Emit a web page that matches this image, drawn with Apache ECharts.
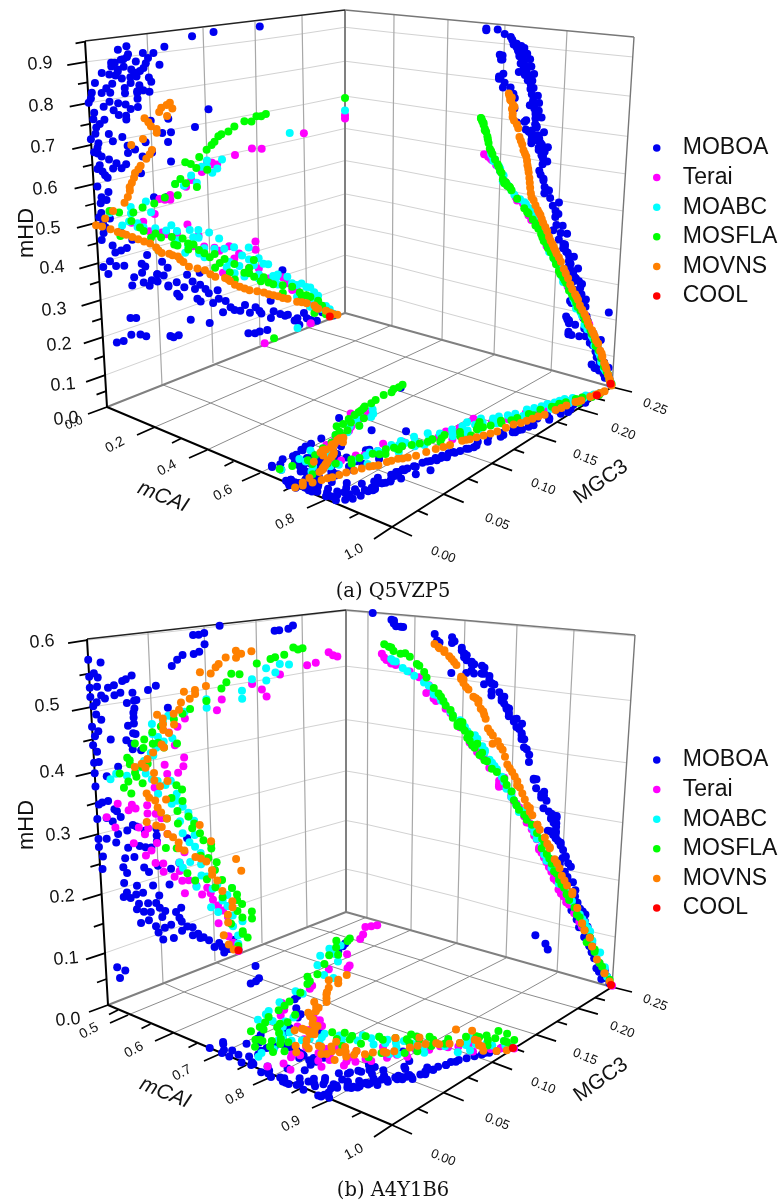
<!DOCTYPE html>
<html><head><meta charset="utf-8">
<script src="https://cdn.jsdelivr.net/npm/echarts@6/dist/echarts.min.js"></script>
<style>html,body{margin:0;padding:0;background:#fff}#c{width:783px;height:1204px}</style>
</head><body><div id="c"></div>
<script>
// Every record is [mCAI, MGC3, mHD]
const names = ['MOBOA','Terai','MOABC','MOSFLA','MOVNS','COOL'];
const colors = ['#0000f0','#ff00ff','#00ffff','#00ff00','#ff8000','#ff0000'];

const A_MOBOA = [
[.625,.065,.91],[.63,.055,.897],[.575,.11,.935],[.535,.155,.935],[.6,.033,.924],[.62,.026,.917],[.63,.034,.902],[.64,.046,.90],
[.65,.048,.872],[.645,.023,.884],[.655,.03,.87],[.66,.036,.86],[.665,.043,.853],[.67,.05,.832],[.59,.023,.85],[.595,.012,.862],
[.675,.006,.838],[.68,.03,.814],[.585,.05,.794],[.59,.04,.796],[.685,.018,.807],[.67,.003,.814],[.68,.002,.80],[.6,.011,.81],
[.605,.017,.784],[.69,.024,.776],[.635,.034,.756],[.625,.012,.773],[.695,.004,.762],[.64,.024,.745],[.70,.012,.739],[.705,.005,.723],
[.71,.004,.707],[.72,.103,.718],[.71,.066,.712],[.65,.09,.675],[.715,.068,.674],[.68,.026,.686],[.71,.018,.679],[.675,.006,.681],
[.72,.065,.649],[.70,.036,.646],[.725,.03,.641],[.73,.05,.629],[.69,.005,.655],[.735,.042,.624],[.72,.014,.634],[.74,.067,.594],
[.70,.006,.624],[.74,.028,.612],[.735,.024,.604],[.725,.017,.608],[.745,.008,.606],[.74,.012,.587],[.75,.05,.508],[.73,.012,.55],
[.765,.062,.50],[.745,.005,.525],[.76,.005,.50],[.80,.006,.472],[.79,.006,.447],[.795,.013,.409],[.785,.025,.392],[.81,.015,.389],
[.825,.015,.353],[.82,.022,.348],[.835,.008,.338],[.825,.042,.359],[.83,.037,.34],[.84,.037,.316],[.845,.03,.31],[.855,.028,.29],
[.85,.038,.289],[.86,.043,.275],[.855,.045,.288],[.84,.055,.329],[.845,.06,.308],[.845,.056,.291],[.865,.078,.272],[.875,.09,.266],
[.88,.083,.248],[.885,.09,.232],[.855,.068,.261],[.845,.06,.257],[.86,.068,.229],[.88,.087,.196],[.89,.098,.20],[.895,.102,.168],
[.90,.107,.20],[.91,.115,.162],[.91,.112,.133],[.92,.124,.128],[.93,.135,.132],[.945,.146,.115],[.95,.152,.091],[.955,.162,.119],
[.975,.175,.198],[.96,.162,.068],[.97,.177,.06],[.98,.187,.036],[.985,.197,.049],[.99,.192,.018],[.995,.213,.01],[.955,.158,.036],
[.93,.138,.047],[.94,.145,.04],[.87,.08,.145],[.885,.098,.116],[.85,.025,.207],[.855,.03,.202],[.845,.012,.155],[.85,.018,.153],
[.84,.025,.162],[.845,.033,.155],[.85,.038,.145],[.85,.06,.122],[.86,.068,.115],[.85,.063,.115],
[.945,.15,.04],[.585,.06,.863],[.595,.04,.85],[.585,.045,.80],[.60,.03,.77],[.625,.04,.758],[.64,.05,.715],[.65,.06,.676],[.68,.045,.66],
[.70,.05,.633],[.535,.09,.93],[.66,.02,.885],[.665,.04,.84],[.69,.03,.73],
[.64,.028,.89],[.645,.04,.88],[.65,.025,.865],[.655,.038,.845],[.66,.046,.86],[.67,.028,.84],[.675,.035,.825],[.68,.042,.815],[.665,.02,.83],[.65,.052,.82],[.655,.033,.895],[.66,.05,.885],[.665,.018,.855],[.685,.04,.80],
[.69,.0,.79],[.70,.003,.745],[.705,.008,.73],[.71,.0,.695],[.715,.005,.67],[.70,.002,.66],[.72,.008,.645],[.725,.004,.615],[.735,.01,.595],[.74,.003,.57],[.735,.006,.54],[.75,.003,.49],[.78,.008,.46],[.79,.004,.43],[.805,.01,.37],[.82,.004,.36],
[.90,.12,.14],[.905,.13,.12],[.92,.14,.105],[.93,.15,.10],[.94,.165,.085],[.945,.172,.07],[.955,.18,.06],[.96,.19,.04],[.97,.2,.03],[.975,.205,.02],[.905,.108,.175],[.89,.09,.185],[.88,.095,.215],[.87,.085,.225],[.86,.075,.24],[.85,.05,.28],[.84,.05,.30],
[.665,.03,.89],[.675,.02,.875],[.685,.025,.86],[.69,.035,.84],[.70,.015,.82],[.695,.03,.80],[.70,.04,.78],[.715,.02,.76],[.72,.03,.74],[.73,.015,.70],[.74,.03,.66],[.755,.02,.62],[.755,.04,.58],[.745,.01,.53],[.77,.012,.48],[.80,.02,.44],[.815,.03,.41],[.83,.02,.39],[.855,.04,.33],[.87,.05,.30],[.885,.06,.26],[.90,.07,.22],
[.97,.21,.06],[.985,.22,.03],[.995,.235,.006]];

const A_Terai = [
[.57,.11,.557],[.565,.105,.56],[.54,.1,.57],[.62,.055,.50],[.625,.06,.494],[.615,.065,.503],[.63,.065,.49],[.655,.05,.463],[.68,.04,.45],
[.71,.056,.408],[.81,.147,.307],[.83,.147,.283],[.795,.105,.323],[.805,.11,.31],[.825,.125,.276],[.815,.13,.286],[.84,.113,.245],[.885,.16,.187],
[.90,.175,.177],[.945,.197,.10],[.955,.21,.086],[.98,.225,.04],[.75,.09,.37],[.735,.07,.395],[.775,.095,.335],[.85,.14,.235],[.87,.15,.205],[.915,.18,.155],
[.93,.19,.125],[.97,.22,.05],[.99,.23,.02],[.60,.085,.53],[.585,.095,.545],[.66,.03,.455],[.70,.045,.42],[.725,.06,.40],
[.555,.105,.565],[.61,.08,.515],[.72,.08,.41],[.765,.085,.345],[.80,.12,.315],[.86,.15,.225],[.895,.165,.17],[.925,.185,.13],[.96,.205,.075]];

const A_MOABC = [
[.625,.012,.495],[.62,.03,.497],[.61,.043,.502],[.65,.047,.47],[.685,.022,.454],[.69,.035,.45],[.72,.05,.424],[.725,.065,.42],[.74,.082,.393],
[.745,.09,.386],[.76,.09,.364],[.76,.052,.362],[.78,.077,.334],[.805,.095,.305],[.805,.125,.308],[.83,.117,.258],[.815,.133,.278],[.845,.145,.239],
[.855,.16,.229],[.85,.125,.233],[.865,.15,.207],[.89,.18,.174],[.885,.168,.182],[.93,.205,.119],[.955,.21,.077],[.61,.09,.519],[.595,.085,.543],
[.565,.10,.574],[.59,.11,.545],[.60,.105,.536],[.612,.078,.519],[.985,.23,.03],[.97,.225,.045],[.94,.19,.105],[.915,.195,.14],[.875,.15,.195],
[.835,.14,.26],[.79,.105,.32],[.77,.11,.345],[.75,.07,.375],[.71,.04,.435],[.67,.028,.46],[.58,.095,.56],[.57,.115,.568],[.905,.17,.16],[.995,.235,.012],
[.73,.06,.41],[.755,.10,.37],[.765,.08,.35],[.82,.12,.27],[.825,.15,.255],[.86,.135,.215],[.87,.165,.19],[.90,.185,.15],[.925,.2,.125],[.95,.215,.085],[.96,.205,.06],[.64,.03,.48],[.60,.07,.53],[.575,.10,.555],[.70,.035,.44],
[.775,.095,.33],[.795,.115,.312],[.81,.14,.295],[.84,.13,.25],[.85,.155,.235],[.88,.17,.19],[.91,.19,.14],[.935,.21,.10],[.975,.22,.04],[.735,.07,.40],[.755,.085,.37],[.79,.09,.32]];

const A_MOSFLA = [
[.525,.16,.674],[.525,.15,.673],[.53,.138,.665],[.535,.128,.655],[.54,.122,.644],[.545,.112,.636],[.55,.108,.623],[.555,.10,.605],[.56,.093,.589],
[.565,.08,.583],[.59,.10,.548],[.61,.09,.507],[.605,.08,.525],[.615,.072,.497],[.625,.05,.491],[.635,.04,.488],[.64,.032,.481],[.685,.037,.437],
[.73,.046,.402],[.695,.02,.428],[.735,.065,.388],[.75,.067,.366],[.755,.08,.357],[.79,.095,.316],[.81,.115,.283],[.825,.105,.266],[.855,.135,.226],
[.885,.152,.186],[.91,.175,.153],[.935,.193,.115],[.98,.21,.037],[.99,.225,.019],[.835,.145,.254],[.96,.215,.07],[.95,.205,.09],[.925,.175,.13],
[.90,.165,.165],[.87,.145,.205],[.845,.12,.24],[.80,.10,.30],[.77,.08,.34],[.715,.05,.41],[.66,.03,.46],[.62,.012,.50],[.632,.02,.49],[.998,.232,.008],
[.535,.145,.66],[.57,.085,.575],[.60,.07,.53],[.97,.22,.05],[.865,.125,.215],[.78,.09,.33],
[.528,.155,.67],[.54,.115,.64],[.552,.105,.615],[.58,.09,.56],[.595,.075,.54],[.62,.06,.50],[.70,.04,.425],[.745,.075,.375],[.815,.11,.275],[.845,.14,.235],[.875,.155,.195],[.92,.185,.14],[.94,.2,.10],[.985,.225,.03],[.765,.085,.35],
[.725,.055,.395],[.76,.07,.36],[.80,.105,.305],[.83,.125,.26],[.86,.14,.22],[.895,.16,.175],[.945,.195,.10]];

const A_MOVNS = [
[.998,.24,.004],[.995,.235,.01],[.99,.23,.02],[.985,.225,.03],[.978,.215,.045],[.97,.21,.06],[.963,.2,.075],[.955,.19,.09],[.947,.18,.108],[.935,.17,.125],
[.925,.16,.14],[.915,.155,.15],[.905,.14,.17],[.89,.13,.19],[.875,.12,.215],[.865,.115,.228],[.855,.105,.24],[.84,.095,.268],[.825,.08,.292],[.815,.075,.31],
[.80,.07,.33],[.79,.062,.345],[.785,.055,.353],[.772,.05,.372],[.765,.045,.387],[.75,.035,.407],[.74,.025,.427],[.73,.018,.44],[.722,.012,.452],[.715,.005,.465],
[.708,.0,.472],[.705,.008,.483],[.70,.025,.512],[.695,.03,.54],[.69,.032,.56],[.685,.035,.584],[.675,.04,.60],[.67,.045,.616],[.66,.05,.636],[.655,.033,.66],
[.65,.043,.67],[.64,.055,.68],[.635,.05,.70],[.635,.045,.725],[.63,.06,.745],[.64,.065,.72],[.625,.07,.738],[.62,.068,.755],[.628,.058,.735],
[.992,.232,.015],[.975,.212,.052],[.96,.195,.083],[.94,.175,.115],[.93,.165,.133],[.91,.148,.16],[.898,.135,.18],[.882,.125,.2],[.87,.118,.222],[.848,.1,.252],[.832,.088,.28],[.808,.072,.32],[.795,.065,.338],[.778,.052,.362],[.758,.04,.397],[.745,.03,.417],[.735,.022,.433],[.702,.015,.498],[.698,.028,.525],[.693,.03,.55],[.688,.034,.572],[.68,.038,.592],[.665,.048,.626],[.632,.048,.712],[.635,.055,.69],[.622,.065,.75]];

const A_COOL = [[.995,.23,.008]];

// points seen only on one wall (MGC3 at the wall, mHD)
const A_leftOnly = {
 Terai:[[.25,.62],[.25,.61],[.128,.573],[.145,.581],[.155,.574],[.2,.593],[.155,.0],[.205,.01]],
 MOABC:[[.25,.635],[.185,.603],[.19,.01]],
 MOSFLA:[[.25,.674],[.165,.005]]
};

const B_MOBOA = [
[.555,.19,.582],[.56,.185,.577],[.57,.175,.577],[.575,.17,.577],[.51,.115,.599],[.55,.10,.589],[.555,.095,.587],[.555,.09,.588],
[.64,.10,.569],[.645,.095,.557],[.65,.09,.554],[.675,.08,.555],[.695,.075,.548],[.70,.07,.538],[.715,.055,.508],[.72,.048,.503],
[.70,.035,.531],[.705,.03,.526],[.715,.027,.524],[.735,.02,.519],[.74,.015,.516],[.75,.035,.502],[.76,.036,.488],[.77,.036,.475],
[.775,.035,.46],[.785,.035,.45],[.79,.034,.434],[.805,.032,.417],[.815,.033,.407],[.80,.015,.43],[.755,.065,.467],[.675,.0,.566],
[.68,.01,.559],[.695,.004,.543],[.70,.0,.538],[.705,.007,.535],[.715,.0,.52],[.72,.006,.52],[.735,.009,.505],[.74,.0,.505],
[.75,.005,.495],[.755,.002,.489],[.755,.004,.475],[.775,.008,.465],[.78,.0,.456],[.785,.005,.447],[.79,.002,.44],[.80,.0,.426],
[.81,.003,.414],[.82,.0,.397],[.815,.004,.397],[.825,.0,.38],[.83,.0,.358],[.84,.002,.328],[.845,.01,.33],[.86,.017,.31],[.855,.0,.305],
[.86,.008,.303],[.865,.013,.295],[.875,.025,.274],[.88,.017,.272],[.885,.0,.272],[.885,.007,.269],[.885,.015,.259],[.88,.0,.259],
[.885,.025,.245],[.87,.033,.277],[.87,.035,.243],[.875,.05,.265],[.875,.05,.243],[.89,.022,.229],[.885,.003,.242],[.895,.002,.222],
[.90,.02,.215],[.905,.023,.204],[.895,.02,.189],[.905,.031,.178],[.90,.022,.172],[.895,.019,.166],[.905,.03,.164],[.91,.036,.163],
[.905,.025,.161],[.91,.032,.147],[.915,.04,.143],[.925,.047,.139],[.91,.03,.139],[.915,.036,.131],[.92,.042,.127],[.92,.033,.114],
[.925,.04,.114],[.93,.05,.129],[.935,.052,.112],[.945,.065,.112],[.93,.046,.10],[.935,.048,.088],[.94,.054,.092],[.945,.06,.093],
[.95,.07,.092],[.955,.08,.075],[.945,.052,.073],[.95,.062,.069],[.95,.07,.076],[.955,.08,.061],[.96,.087,.051],[.965,.095,.041],
[.97,.10,.025],[.975,.105,.029],[.98,.11,.009],[.975,.108,.02],[.905,.038,.205],[.915,.062,.189],[.91,.07,.194],[.885,.078,.233],
[.885,.045,.235],[.88,.04,.238],[.855,.01,.055],[.875,.017,.045],[.88,.012,.036],
[.735,.025,.505],[.675,.012,.499],[.705,.02,.502],[.755,.038,.489],[.74,.03,.486],[.78,.035,.468],[.79,.03,.448],[.805,.036,.432],
[.815,.028,.424],[.815,.04,.403],[.82,.02,.383],[.83,.01,.371],[.84,.005,.33],[.845,.015,.314],[.855,.02,.299],[.86,.03,.281],
[.875,.04,.266],[.885,.05,.253],[.895,.03,.227],[.90,.05,.201],[.92,.06,.163],[.94,.07,.116],
[.955,.085,.06],[.95,.075,.08],[.945,.068,.10],[.935,.055,.12],[.925,.05,.15],[.91,.045,.17],[.895,.042,.195],[.96,.09,.05],[.985,.115,.012],
[.995,.125,.005],[.99,.122,.015],[.985,.12,.025]];

const B_Terai = [
[.54,.24,.51],[.535,.235,.514],[.53,.23,.521],[.55,.215,.504],[.56,.205,.502],[.59,.175,.493],[.63,.155,.471],[.625,.16,.456],[.61,.145,.484],
[.635,.115,.465],[.64,.11,.447],[.645,.08,.443],[.665,.073,.431],[.715,.078,.375],[.73,.077,.36],[.745,.072,.351],[.675,.065,.424],[.74,.062,.353],
[.785,.018,.322],[.78,.027,.307],[.785,.033,.307],[.775,.043,.308],[.80,.043,.294],[.775,.008,.304],[.805,.015,.284],[.815,.035,.274],[.82,.043,.269],
[.825,.04,.26],[.83,.03,.25],[.85,.04,.224],[.845,.045,.23],[.855,.048,.207],[.86,.055,.202],[.87,.055,.188],[.88,.065,.173],[.885,.072,.162],
[.89,.078,.159],[.90,.074,.139],[.91,.09,.126],[.915,.098,.123],[.935,.105,.097],[.96,.105,.065],[1,.125,.002],
[.695,.07,.40],[.72,.06,.37],[.755,.05,.335],[.775,.03,.315],[.80,.05,.29],[.84,.05,.24],[.875,.07,.18],[.895,.085,.145],[.925,.10,.11],[.945,.11,.085],[.975,.115,.035],[.985,.12,.02],
[.81,.055,.28],[.835,.06,.25],[.855,.075,.21],[.865,.07,.195],[.905,.095,.135],[.94,.115,.09],[.955,.115,.07]];

const B_MOABC = [
[.555,.185,.509],[.55,.175,.513],[.575,.17,.498],[.56,.16,.509],[.60,.16,.486],[.585,.145,.493],[.62,.135,.475],[.64,.135,.46],[.645,.10,.455],
[.64,.08,.455],[.65,.065,.453],[.66,.05,.444],[.675,.05,.427],[.705,.053,.402],[.695,.068,.413],[.73,.042,.384],[.745,.043,.362],[.74,.018,.372],
[.745,.013,.365],[.745,.027,.365],[.76,.053,.345],[.78,.053,.323],[.79,.07,.303],[.81,.08,.277],[.815,.072,.266],[.84,.074,.244],[.86,.085,.214],
[.875,.07,.195],[.885,.073,.184],[.91,.085,.143],[.93,.12,.12],[.945,.098,.098],[.955,.105,.085],[.975,.13,.053],[.94,.11,.103],
[.80,.075,.29],[.83,.085,.26],[.865,.09,.20],[.90,.09,.16],[.985,.125,.03],[.77,.06,.335],[.72,.045,.385],
[.71,.048,.395],[.73,.038,.375],[.755,.048,.35],[.85,.08,.225],[.87,.08,.19],[.92,.10,.13],[.935,.115,.11],[.96,.12,.07],[.97,.12,.05],[.63,.10,.47],[.655,.06,.445],[.68,.055,.42],[.80,.065,.30],
[.825,.08,.27],[.845,.085,.235],[.88,.09,.18],[.895,.095,.155],[.915,.105,.135],[.95,.115,.09],[.785,.07,.315],[.765,.065,.34],[.725,.05,.39],[.695,.06,.41],[.99,.125,.015]];

const B_MOSFLA = [
[.545,.20,.536],[.55,.195,.535],[.555,.18,.529],[.59,.15,.521],[.61,.133,.506],[.605,.125,.509],[.625,.115,.485],[.64,.10,.467],[.65,.085,.458],
[.69,.072,.402],[.665,.058,.437],[.68,.043,.42],[.68,.035,.416],[.69,.042,.406],[.71,.03,.383],[.72,.021,.371],[.725,.034,.367],[.745,.04,.347],
[.75,.024,.346],[.76,.03,.334],[.81,.06,.277],[.805,.07,.285],[.825,.07,.263],[.84,.083,.248],[.865,.093,.221],[.87,.10,.202],[.86,.058,.227],
[.865,.068,.221],[.88,.097,.187],[.895,.103,.162],[.89,.077,.172],[.90,.084,.155],[.915,.103,.131],[.93,.11,.109],[.955,.125,.075],[.965,.14,.052],
[.965,.118,.056],[.985,.135,.02],[.995,.125,.011],
[.705,.028,.395],[.715,.045,.378],[.735,.028,.355],[.74,.035,.36],[.70,.05,.41],[.675,.05,.43],[.66,.07,.445],[.655,.078,.452],[.70,.06,.40],[.80,.075,.30],[.79,.065,.31],[.815,.08,.27],[.85,.09,.235],[.875,.09,.195],[.905,.095,.15],[.925,.12,.12],[.94,.125,.095],[.945,.13,.085],[.975,.13,.035],[.95,.14,.065],[.62,.12,.495],[.57,.165,.525],[.58,.17,.527],[.535,.19,.54],
[.77,.07,.33],[.785,.075,.32],[.83,.085,.255],[.86,.10,.21],[.885,.105,.175],[.91,.11,.14],[.935,.125,.105],[.96,.13,.06],[.98,.13,.03],[.73,.04,.375],[.715,.03,.39],[.695,.055,.41]];

const B_MOVNS = [
[.995,.12,.008],[.97,.11,.04],[.94,.12,.096],[.92,.105,.142],[.905,.10,.163],[.885,.085,.196],[.875,.075,.213],[.855,.065,.242],[.84,.055,.265],
[.83,.042,.28],[.82,.052,.30],[.805,.043,.328],[.795,.062,.341],[.78,.043,.372],[.775,.034,.377],[.77,.045,.386],[.75,.058,.406],[.735,.06,.44],
[.74,.07,.436],[.725,.055,.458],[.71,.077,.472],[.70,.09,.483],[.70,.08,.49],[.695,.10,.494],[.685,.105,.515],[.67,.113,.53],[.65,.135,.543],[.648,.145,.545],
[.68,.095,.52],[.66,.12,.54],[.955,.115,.074],[.93,.11,.12],[.895,.095,.182],[.865,.07,.23],[.81,.05,.313],[.79,.05,.347],[.755,.06,.40],[.745,.065,.423],
[.73,.07,.455],[.705,.085,.476],[.835,.06,.277],[.815,.06,.31],[.85,.09,.25],[.875,.10,.215],[.92,.13,.146],[.90,.125,.17],
[.985,.115,.02],[.96,.115,.06],[.945,.12,.085],[.91,.10,.155],[.89,.09,.19],[.87,.07,.22],[.85,.06,.25],[.835,.05,.27],[.825,.055,.29],[.81,.045,.32],[.80,.055,.335],[.785,.05,.36],[.76,.05,.395],[.76,.04,.38],[.742,.06,.43],[.73,.06,.45],[.72,.075,.46],[.695,.09,.49],[.675,.11,.525],[.66,.13,.537],[.64,.13,.55]];

const B_COOL = [[.998,.125,.003]];

// Axis tick values and where each tick sits on the vertical scale (fraction of the wall height)
const A_hdTicks = [0,.1,.2,.3,.4,.5,.6,.7,.8,.9];
const A_hdFrac = [0,.087,.191,.292,.393,.503,.609,.716,.831,.943];
const B_hdTicks = [0,.1,.2,.3,.4,.5,.6];
const B_hdFrac = [0,.142,.303,.467,.637,.814,.997];
const A_caiTicks = [.2,.4,.6,.8];
const B_caiTicks = [.5,.6,.7,.8,.9];
const gc3Ticks = [.05,.10,.15,.20];

const panels = [
 {cai:{knots:[0,.2,.4,.6,.8,1],front:[[107,407],[155,427],[207,450],[260,473],[325,500],[392,527]],back:[[345,313],[392,325],[442,340],[494,355],[551,372],[612,387]],top:[[345,10],[394,15],[448,20],[505,25],[567,31],[634,37]]},
  gc3:{knots:[0,.05,.1,.15,.2,.25],bottom:[[107,407],[162,385],[213,363],[260,345],[307,328],[345,313]],top:[[85,41],[147,34],[203,28],[255,22],[302,16],[345,10]],frac:[0,.235,.455,.655,.845,1]},
  zMax:.95,hd:A_hdTicks,hdFrac:A_hdFrac,caiT:A_caiTicks,data:[A_MOBOA,A_Terai,A_MOABC,A_MOSFLA,A_MOVNS,A_COOL],leftOnly:A_leftOnly},
 {cai:{knots:[.455,.5,.6,.7,.8,.9,1],front:[[108,1005],[128,1015],[173,1033],[222,1053],[271,1077],[330,1100],[392,1125]],back:[[346,912],[367,917],[411,930],[457,943],[506,958],[557,973],[612,987]],top:[[346,610],[368,612],[415,616],[465,620],[517,625],[574,630],[635,635]]},
  gc3:{knots:[0,.05,.1,.15,.2,.25],bottom:[[108,1005],[163,983],[215,961],[262,943],[307,926],[346,912]],top:[[87,639],[148,633],[204,627],[256,621],[302,615],[346,610]],frac:[0,.235,.455,.655,.845,1]},
  zMax:.6,hd:B_hdTicks,hdFrac:B_hdFrac,caiT:B_caiTicks,data:[B_MOBOA,B_Terai,B_MOABC,B_MOSFLA,B_MOVNS,B_COOL],leftOnly:{}}
];

function tab(t,kn,vals){
 let i=0; while(i<kn.length-2 && t>kn[i+1]) i++;
 const s=(t-kn[i])/(kn[i+1]-kn[i]);
 if(Array.isArray(vals[0])) return [vals[i][0]+(vals[i+1][0]-vals[i][0])*s, vals[i][1]+(vals[i+1][1]-vals[i][1])*s];
 return vals[i]+(vals[i+1]-vals[i])*s;
}
const mix=(a,b,s)=>[a[0]+(b[0]-a[0])*s,a[1]+(b[1]-a[1])*s];
const rightAt=(p,u,s)=>mix(tab(u,p.cai.knots,p.cai.back),tab(u,p.cai.knots,p.cai.top),s);
const leftAt=(p,v,s)=>mix(tab(v,p.gc3.knots,p.gc3.bottom),tab(v,p.gc3.knots,p.gc3.top),s);
const floorAt=(p,u,v)=>mix(tab(u,p.cai.knots,p.cai.front),tab(u,p.cai.knots,p.cai.back),tab(v,p.gc3.knots,p.gc3.frac));

const series=[];
const styles={
 wallH:{color:'#d2d2d2',width:1},wallV:{color:'#a8a8a8',width:1.2},floor:{color:'#8c8c8c',width:1},
 edge:{color:'#808080',width:2},edgeThin:{color:'#777',width:1.4},black:{color:'#000',width:2},tick:{color:'#000',width:1.8},topL:{color:'#222',width:1.3}
};
function addLines(style,segs){
 const d=[];segs.forEach(s=>{s.forEach(p=>d.push(p));d.push([NaN,NaN]);});
 series.push({type:'line',silent:true,showSymbol:false,symbol:'none',animation:false,connectNulls:false,z:1,data:d,lineStyle:styles[style]});
}
const graphics=[];
function txt(x,y,t,size,rot,opts){
 graphics.push({type:'text',x,y,rotation:(rot||0)*Math.PI/180,silent:true,z:50,style:Object.assign({text:t,fill:'#111',font:(opts&&opts.italic?'italic ':'')+size+'px "Liberation Sans", Arial, sans-serif',textAlign:'center',textVerticalAlign:'middle'},opts&&opts.style||{})});
}

panels.forEach(p=>{
 const uK=p.cai.knots,vK=p.gc3.knots,uMin=uK[0];
 const wallH=[],wallV=[],floor=[];
 p.hdFrac.forEach((f,i)=>{ if(p.hd[i]===0) return;
  wallH.push(vK.map(v=>leftAt(p,v,f)));
  wallH.push(uK.map(u=>rightAt(p,u,f)));
 });
 gc3Ticks.forEach(v=>{wallV.push([leftAt(p,v,0),leftAt(p,v,1)]);floor.push(uK.map(u=>floorAt(p,u,v)));});
 p.caiT.forEach(u=>{wallV.push([rightAt(p,u,0),rightAt(p,u,1)]);floor.push([floorAt(p,u,0),floorAt(p,u,.25)]);});
 addLines('wallH',wallH);addLines('wallV',wallV);addLines('floor',floor);
 const L0=leftAt(p,0,0),L1=leftAt(p,0,1),B0=leftAt(p,.25,0),B1=leftAt(p,.25,1),R0=rightAt(p,1,0),R1=rightAt(p,1,1),F=floorAt(p,1,0);
 addLines('edge',[[L0,B0],[B0,R0],[B0,B1]]);
 addLines('edgeThin',[[R0,R1],[B1,R1]]);
 addLines('topL',[[L1,B1]]);
 addLines('black',[[L0,L1],[L0,F],[F,R0]]);
 const ticks=[];
 const off=(a,dx,dy)=>[a,[a[0]+dx,a[1]+dy]];
 p.hdFrac.forEach((f,i)=>{
  const a=leftAt(p,0,f),dy=3+4*(1-f);ticks.push(off(a,-19,dy));
  const nf=i<p.hdFrac.length-1?(f+p.hdFrac[i+1])/2:(f+.055<1?f+.055:null);
  if(nf!==null){const b=leftAt(p,0,nf);ticks.push(off(b,-9.5,dy/2));}
 });
 p.caiT.concat([1]).forEach(u=>ticks.push(off(floorAt(p,u,0),-18,u===1?12:8)));
 const uAll=[uMin].concat(p.caiT,[1]);
 for(let i=1;i<uAll.length-1;i++){const m=(uAll[i]+uAll[i+1])/2;ticks.push(off(floorAt(p,m,0),-9,4.5));}
 if(p.caiT[0]>.3){ticks.push(off(floorAt(p,(uAll[0]+uAll[1])/2,0),-9,4.5));}
 [0].concat(gc3Ticks,[.25]).forEach(v=>ticks.push(off(floorAt(p,1,v),20,9-v*16)));
 [.025,.075,.125,.175,.225].forEach(v=>ticks.push(off(floorAt(p,1,v),10,4.5-v*8)));
 addLines('tick',ticks);
});

[[.9,40,64],[.8,41,106],[.7,43,147],[.6,45,189],[.5,48,229],[.4,52,268],[.3,54,310],[.2,59,345],[.1,63,385]].forEach(a=>txt(a[1],a[2],a[0].toFixed(1),18,5));
txt(66,419,'0.0',18,5);txt(74,423,'0.0',13,22);
[['0.2',115,445],['0.4',167,468],['0.6',223,493],['0.8',285,522],['1.0',354,552]].forEach(a=>txt(a[1],a[2],a[0],14,28));
[['0.00',443,555],['0.05',497,522],['0.10',543,487],['0.15',585,458],['0.20',623,432],['0.25',655,407]].forEach(a=>txt(a[1],a[2],a[0],13,-22));
txt(27,233,'mHD',22,90);txt(163,497,'mCAI',21,-22,{italic:true});txt(601,482,'MGC3',21,35);
[['0.6',42,642],['0.5',47,706],['0.4',52,772],['0.3',58,835],['0.2',62,897],['0.1',66,959],['0.0',68,1020]].forEach(a=>txt(a[1],a[2],a[0],18,5));
[['0.5',89,1031],['0.6',134,1050],['0.7',182,1073],['0.8',235,1097],['0.9',291,1124],['1.0',354,1152]].forEach(a=>txt(a[1],a[2],a[0],14,28));
[['0.00',443,1158],['0.05',497,1122],['0.10',543,1086],['0.15',585,1057],['0.20',622,1030],['0.25',655,1003]].forEach(a=>txt(a[1],a[2],a[0],13,-22));
txt(27,825,'mHD',22,90);txt(165,1093,'mCAI',21,-22,{italic:true});txt(601,1080,'MGC3',21,35);
txt(393,592,'(a) Q5VZP5',19,0,{style:{font:'19.5px "DejaVu Serif", serif'}});
txt(393,1191,'(b) A4Y1B6',19,0,{style:{font:'19.5px "DejaVu Serif", serif'}});

panels.forEach(p=>{
 names.forEach((n,k)=>{
  const marks=[];
  p.data[k].forEach(r=>{
   const s=r[2]/p.zMax;
   marks.push(leftAt(p,r[1],s),rightAt(p,r[0],s),floorAt(p,r[0],r[1]));
  });
  (p.leftOnly[n]||[]).forEach(r=>marks.push(leftAt(p,r[0],r[1]/p.zMax)));
  series.push({name:n,type:'scatter',symbol:'circle',symbolSize:8,animation:false,silent:true,z:5+k,
   itemStyle:{color:colors[k],opacity:1},data:marks});
 });
});

const legendBase={orient:'vertical',left:648,icon:'circle',itemWidth:42,itemHeight:7.5,itemGap:5.6,selectedMode:false,
 textStyle:{fontFamily:'"Liberation Sans", Arial, sans-serif',fontSize:23,color:'#111',height:24,lineHeight:24},data:names};
const chart=echarts.init(document.getElementById('c'),null,{renderer:'canvas'});
chart.setOption({
 animation:false,backgroundColor:'#fff',
 grid:{left:0,right:0,top:0,bottom:0,containLabel:false},
 xAxis:{type:'value',min:0,max:783,show:false},
 yAxis:{type:'value',min:0,max:1204,inverse:true,show:false},
 legend:[Object.assign({},legendBase,{top:131}),Object.assign({},legendBase,{top:743})],
 graphic:graphics,
 series
});
</script></body></html>
